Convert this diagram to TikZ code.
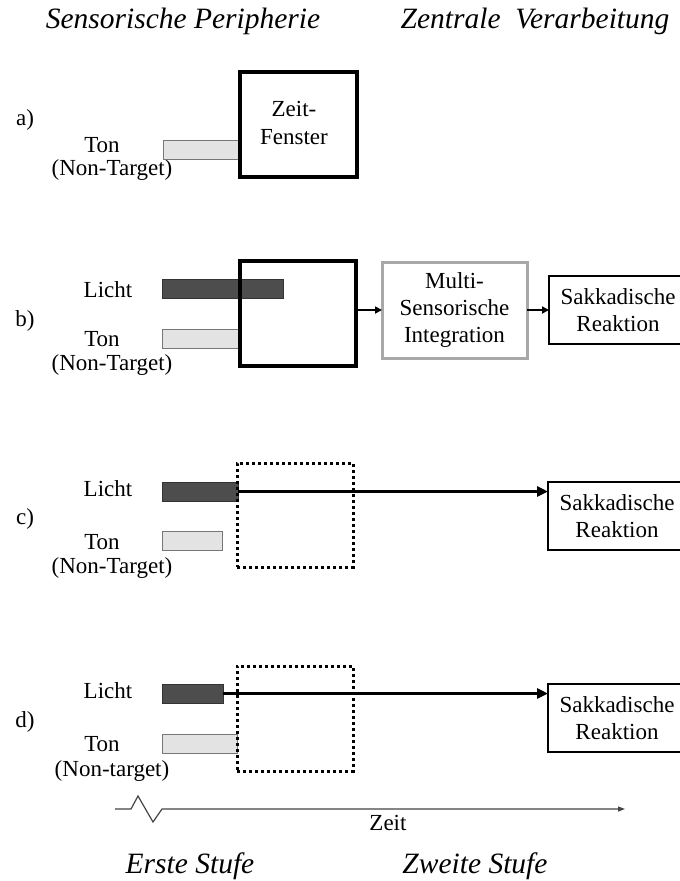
\documentclass[tikz,border=0pt]{standalone}
\usepackage{fontspec}
\setmainfont{Liberation Serif}
\usetikzlibrary{arrows.meta}
\definecolor{darkbar}{HTML}{4D4D4D}
\definecolor{darkbarline}{HTML}{333333}
\definecolor{lightbar}{HTML}{E3E3E3}
\definecolor{lightbarline}{HTML}{777777}
\definecolor{multigray}{HTML}{A8A8A8}
\definecolor{axisgray}{HTML}{444444}
\begin{document}
\begin{tikzpicture}[x=1pt,y=-1pt,
  txt/.style={inner sep=0pt, anchor=base, font=\fontsize{23}{27.5}\selectfont},
  head/.style={inner sep=0pt, anchor=base, font=\fontsize{29.5}{34}\selectfont\itshape},
  winbox/.style={draw=black, line width=3.2pt, inner sep=0pt, outer sep=0pt, anchor=north west},
  dotbox/.style={draw=black, line width=3pt, dash pattern=on 3pt off 3pt, inner sep=0pt, outer sep=0pt, anchor=north west},
  multibox/.style={draw=multigray, line width=3pt, inner sep=0pt, outer sep=0pt, anchor=north west, align=center, font=\fontsize{23}{27}\selectfont},
  sakbox/.style={draw=black, line width=2.7pt, inner sep=0pt, outer sep=0pt, anchor=north west, align=center, font=\fontsize{23}{27.5}\selectfont, minimum width=138pt, minimum height=68pt},
  lbar/.style={draw=darkbarline, fill=darkbar, line width=1pt, inner sep=0pt, outer sep=0pt, anchor=north west, minimum height=19pt},
  tbar/.style={draw=lightbarline, fill=lightbar, line width=1pt, inner sep=0pt, outer sep=0pt, anchor=north west, minimum height=19pt},
  flow/.style={line width=2.5pt, -{Triangle[length=7pt,width=7pt]}},
  longflow/.style={line width=3pt, -{Triangle[length=11pt,width=10pt]}},
  axis/.style={draw=axisgray, line width=1.2pt, -{Triangle[length=7pt,width=5pt]}}
]
\useasboundingbox (0,0) rectangle (680,881);

% headers
\node[head] (hsp) at (183,28) {Sensorische Peripherie};
\node[head] (hzv) at (535,28) {Zentrale\ \ Verarbeitung};

% ---------------- a)
\node[txt] (la) at (25,125) {a)};
\node[txt] (tonAt) at (102,152) {Ton};
\node[txt] (ntA) at (112,175) {(Non-Target)};
\node[tbar, minimum width=77pt] (tonA) at (163,140) {};
\node[winbox, minimum width=117pt, minimum height=105pt] (fensterA) at (240,72) {};
\node[txt, anchor=center, align=center] (fensterAt) at (294,123) {Zeit-\\Fenster};

% ---------------- b)
\node[txt] (lb) at (25,326) {b)};
\node[txt] (lichtBt) at (108,297) {Licht};
\node[txt] (tonBt) at (102,346) {Ton};
\node[txt] (ntB) at (112,370) {(Non-Target)};
\node[lbar, minimum width=121pt] (lichtB) at (162,279) {};
\node[tbar, minimum width=78pt] (tonB) at (162,329) {};
\node[winbox, minimum width=116pt, minimum height=105pt] (fensterB) at (240,261) {};
\node[multibox, minimum width=145pt, minimum height=96pt] (multi) at (382,262) {Multi-\\Sensorische\\Integration};
\node[sakbox] (sakB) at (549,276) {Sakkadische\\Reaktion};
\draw[flow] (multi.west -| fensterB.east) -- (multi.west);
\draw[flow] (multi.east) -- (multi.east -| sakB.west);

% ---------------- c)
\node[txt] (lc) at (25,524) {c)};
\node[txt] (lichtCt) at (108,496) {Licht};
\node[txt] (tonCt) at (102,549) {Ton};
\node[txt] (ntC) at (112,573) {(Non-Target)};
\node[lbar, minimum width=76pt] (lichtC) at (162,482) {};
\node[tbar, minimum width=60pt] (tonC) at (162,531) {};
\node[sakbox] (sakC) at (548,482) {Sakkadische\\Reaktion};
\draw[longflow] (lichtC.east) -- (lichtC.east -| sakC.west);
\node[dotbox, minimum width=116pt, minimum height=104pt] (fensterC) at (237,463) {};

% ---------------- d)
\node[txt] (ld) at (25,727) {d)};
\node[txt] (lichtDt) at (108,698) {Licht};
\node[txt] (tonDt) at (102,751) {Ton};
\node[txt] (ntD) at (112,776) {(Non-target)};
\node[lbar, minimum width=61pt] (lichtD) at (162,684) {};
\node[tbar, minimum width=75pt] (tonD) at (162,734) {};
\node[sakbox] (sakD) at (548,684) {Sakkadische\\Reaktion};
\draw[longflow] (lichtD.east) -- (lichtD.east -| sakD.west);
\node[dotbox, minimum width=116pt, minimum height=105pt] (fensterD) at (237,666) {};

% ---------------- time axis
\coordinate (ax0) at (115,809);
\coordinate (ax1) at (625,809);
\draw[axis] (ax0) -- (131,809) -- (138,796) -- (153,822) -- (162,809) -- (ax1);
\node[txt] (zeit) at (388,830) {Zeit};

% footers
\node[head] (erste) at (190,873) {Erste Stufe};
\node[head] (zweite) at (475,873) {Zweite Stufe};
\end{tikzpicture}
\end{document}
